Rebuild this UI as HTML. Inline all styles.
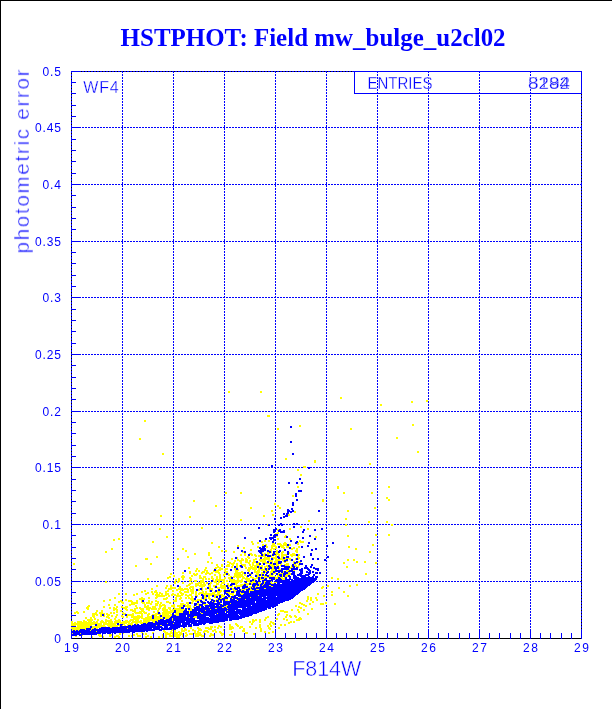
<!DOCTYPE html>
<html lang="en"><head><meta charset="utf-8"><title>HSTPHOT: Field mw_bulge_u2cl02</title>
<style>html,body{margin:0;padding:0;background:#fff;}svg{display:block;}text{fill:#0000ff;font-family:"Liberation Sans",sans-serif;}.t{font-family:"Liberation Serif",serif;font-weight:bold;}.thin text,text.thin{stroke:#fff;stroke-width:0.5px;}text.thin2{stroke:#fff;stroke-width:0.3px;}</style></head><body>
<svg width="612" height="709" viewBox="0 0 612 709">
<rect x="0" y="0" width="612" height="709" fill="#fff"/>
<g shape-rendering="crispEdges">
<rect x="0" y="0" width="612" height="1" fill="#000"/>
<rect x="0" y="0" width="1" height="709" fill="#000"/>
<rect x="71" y="71" width="511" height="1" fill="#000"/>
<rect x="71" y="71" width="1" height="568" fill="#000"/>
<rect x="581" y="71" width="1" height="568" fill="#000"/>
<path d="M71.5 71V638M122.5 71V638M173.5 71V638M224.5 71V638M275.5 71V638M326.5 71V638M377.5 71V638M428.5 71V638M479.5 71V638M530.5 71V638M581.5 71V638" stroke="#0000ff" stroke-width="1" stroke-dasharray="2 1" fill="none"/>
<path d="M71 581.5H582M71 524.5H582M71 467.5H582M71 411.5H582M71 354.5H582M71 297.5H582M71 241.5H582M71 184.5H582M71 127.5H582M71 71.5H582" stroke="#0000ff" stroke-width="1" stroke-dasharray="2 1" stroke-dashoffset="1" fill="none"/>
<path d="M228 391h2v1h-2zM260 391h2v1h-2zM228 392h2v1h-2zM260 392h2v1h-2zM340 397h2v1h-2zM340 398h2v1h-2zM426 400h2v1h-2zM411 401h2v1h-2zM426 401h2v1h-2zM411 402h2v1h-2zM380 404h2v1h-2zM380 405h2v1h-2zM267 415h3v1h-3zM267 416h3v1h-3zM144 420h2v1h-2zM144 421h2v1h-2zM412 424h2v1h-2zM299 425h2v1h-2zM412 425h2v1h-2zM299 426h2v1h-2zM277 428h2v1h-2zM350 428h2v1h-2zM277 429h2v1h-2zM350 429h2v1h-2zM396 437h2v1h-2zM139 438h2v1h-2zM396 438h2v1h-2zM139 439h2v1h-2zM417 451h2v1h-2zM417 452h2v1h-2zM162 453h2v1h-2zM162 454h2v1h-2zM285 458h2v1h-2zM285 459h2v1h-2zM314 460h2v1h-2zM314 461h2v1h-2zM314 462h2v1h-2zM369 463h2v1h-2zM369 464h2v1h-2zM303 466h3v1h-3zM303 467h3v1h-3zM297 469h2v1h-2zM297 470h2v1h-2zM300 474h2v1h-2zM300 475h2v1h-2zM297 486h2v1h-2zM337 486h2v1h-2zM388 486h2v1h-2zM297 487h2v1h-2zM337 487h2v1h-2zM388 487h2v1h-2zM337 488h2v1h-2zM225 492h2v1h-2zM240 492h2v1h-2zM343 492h2v1h-2zM371 492h2v1h-2zM225 493h2v1h-2zM240 493h2v1h-2zM343 493h2v1h-2zM371 493h2v1h-2zM292 495h2v1h-2zM292 496h2v1h-2zM386 497h2v1h-2zM386 498h2v1h-2zM322 499h2v1h-2zM388 499h2v1h-2zM193 500h2v1h-2zM322 500h2v1h-2zM388 500h2v1h-2zM193 501h2v1h-2zM322 501h2v1h-2zM274 503h2v1h-2zM274 504h2v1h-2zM215 505h2v1h-2zM277 505h2v1h-2zM215 506h2v1h-2zM277 506h2v1h-2zM250 507h2v1h-2zM279 507h2v1h-2zM374 507h2v1h-2zM250 508h2v1h-2zM279 508h2v1h-2zM374 508h2v1h-2zM271 510h2v1h-2zM347 510h2v1h-2zM271 511h2v1h-2zM294 511h2v1h-2zM347 511h2v1h-2zM294 512h2v1h-2zM272 514h2v1h-2zM288 514h2v1h-2zM160 515h2v1h-2zM263 515h2v1h-2zM272 515h2v1h-2zM288 515h2v1h-2zM160 516h2v1h-2zM189 516h2v1h-2zM263 516h2v1h-2zM189 517h2v1h-2zM345 518h2v1h-2zM240 519h2v1h-2zM345 519h2v1h-2zM240 520h2v1h-2zM308 520h2v1h-2zM308 521h2v1h-2zM368 521h2v1h-2zM386 521h2v1h-2zM368 522h2v1h-2zM386 522h2v1h-2zM267 524h1v1h-1zM345 524h2v1h-2zM391 524h2v1h-2zM267 525h1v1h-1zM345 525h2v1h-2zM391 525h2v1h-2zM300 526h2v1h-2zM201 527h2v1h-2zM300 527h2v1h-2zM159 528h2v1h-2zM201 528h2v1h-2zM289 528h2v1h-2zM307 528h2v1h-2zM159 529h2v1h-2zM277 529h2v1h-2zM289 529h2v1h-2zM307 529h2v1h-2zM277 530h1v1h-1zM277 532h2v1h-2zM275 533h4v1h-4zM375 534h2v1h-2zM388 534h2v1h-2zM285 535h2v1h-2zM347 535h2v1h-2zM375 535h2v1h-2zM388 535h2v1h-2zM166 536h2v1h-2zM276 536h2v1h-2zM284 536h2v1h-2zM315 536h2v1h-2zM347 536h2v1h-2zM166 537h2v1h-2zM284 537h2v1h-2zM315 537h2v1h-2zM118 538h2v1h-2zM277 538h2v1h-2zM289 538h2v1h-2zM113 539h2v1h-2zM118 539h2v1h-2zM277 539h2v1h-2zM289 539h2v1h-2zM113 540h2v1h-2zM264 540h2v1h-2zM268 540h2v1h-2zM299 540h2v1h-2zM152 541h2v1h-2zM251 541h2v1h-2zM261 541h2v1h-2zM264 541h2v1h-2zM268 541h2v1h-2zM299 541h5v1h-5zM152 542h2v1h-2zM211 542h2v1h-2zM251 542h2v1h-2zM257 542h2v1h-2zM261 542h2v1h-2zM284 542h2v1h-2zM298 542h1v1h-1zM300 542h4v1h-4zM211 543h2v1h-2zM252 543h2v1h-2zM257 543h2v1h-2zM272 543h3v1h-3zM277 543h4v1h-4zM283 543h4v1h-4zM297 543h2v1h-2zM252 544h2v1h-2zM262 544h2v1h-2zM265 544h2v1h-2zM272 544h3v1h-3zM277 544h5v1h-5zM283 544h4v1h-4zM289 544h2v1h-2zM297 544h2v1h-2zM372 544h2v1h-2zM237 545h2v1h-2zM262 545h2v1h-2zM266 545h1v1h-1zM271 545h5v1h-5zM280 545h7v1h-7zM289 545h2v1h-2zM372 545h2v1h-2zM218 546h2v1h-2zM237 546h2v1h-2zM257 546h2v1h-2zM266 546h2v1h-2zM271 546h6v1h-6zM280 546h4v1h-4zM286 546h3v1h-3zM298 546h2v1h-2zM348 546h2v1h-2zM218 547h2v1h-2zM243 547h2v1h-2zM257 547h2v1h-2zM266 547h2v1h-2zM271 547h2v1h-2zM275 547h2v1h-2zM281 547h4v1h-4zM286 547h3v1h-3zM293 547h2v1h-2zM298 547h2v1h-2zM348 547h2v1h-2zM111 548h2v1h-2zM182 548h2v1h-2zM243 548h2v1h-2zM271 548h6v1h-6zM283 548h2v1h-2zM291 548h4v1h-4zM296 548h2v1h-2zM355 548h2v1h-2zM111 549h2v1h-2zM182 549h2v1h-2zM250 549h2v1h-2zM270 549h2v1h-2zM273 549h2v1h-2zM291 549h2v1h-2zM296 549h2v1h-2zM355 549h2v1h-2zM185 550h2v1h-2zM221 550h2v1h-2zM225 550h2v1h-2zM250 550h2v1h-2zM269 550h3v1h-3zM276 550h2v1h-2zM295 550h3v1h-3zM105 551h2v1h-2zM185 551h2v1h-2zM221 551h2v1h-2zM225 551h2v1h-2zM233 551h2v1h-2zM243 551h1v1h-1zM271 551h1v1h-1zM276 551h2v1h-2zM282 551h2v1h-2zM295 551h3v1h-3zM369 551h2v1h-2zM105 552h2v1h-2zM208 552h2v1h-2zM233 552h2v1h-2zM242 552h2v1h-2zM262 552h1v1h-1zM267 552h2v1h-2zM271 552h1v1h-1zM275 552h3v1h-3zM281 552h3v1h-3zM289 552h1v1h-1zM296 552h2v1h-2zM369 552h2v1h-2zM194 553h2v1h-2zM208 553h2v1h-2zM244 553h2v1h-2zM249 553h3v1h-3zM262 553h1v1h-1zM264 553h2v1h-2zM267 553h3v1h-3zM272 553h1v1h-1zM275 553h4v1h-4zM281 553h2v1h-2zM289 553h1v1h-1zM292 553h3v1h-3zM194 554h2v1h-2zM208 554h2v1h-2zM240 554h2v1h-2zM244 554h2v1h-2zM250 554h3v1h-3zM254 554h2v1h-2zM263 554h2v1h-2zM267 554h2v1h-2zM276 554h4v1h-4zM281 554h6v1h-6zM290 554h6v1h-6zM298 554h2v1h-2zM208 555h2v1h-2zM240 555h2v1h-2zM244 555h2v1h-2zM251 555h2v1h-2zM254 555h3v1h-3zM258 555h3v1h-3zM263 555h2v1h-2zM271 555h1v1h-1zM274 555h3v1h-3zM278 555h2v1h-2zM281 555h6v1h-6zM290 555h6v1h-6zM298 555h2v1h-2zM156 556h2v1h-2zM187 556h2v1h-2zM247 556h2v1h-2zM255 556h2v1h-2zM258 556h8v1h-8zM271 556h1v1h-1zM275 556h2v1h-2zM279 556h1v1h-1zM281 556h3v1h-3zM291 556h2v1h-2zM297 556h2v1h-2zM156 557h2v1h-2zM187 557h2v1h-2zM210 557h2v1h-2zM237 557h1v1h-1zM247 557h3v1h-3zM264 557h6v1h-6zM271 557h6v1h-6zM281 557h2v1h-2zM285 557h1v1h-1zM297 557h3v1h-3zM145 558h3v1h-3zM177 558h2v1h-2zM210 558h2v1h-2zM231 558h2v1h-2zM237 558h1v1h-1zM241 558h2v1h-2zM245 558h2v1h-2zM248 558h2v1h-2zM255 558h2v1h-2zM263 558h7v1h-7zM273 558h4v1h-4zM280 558h3v1h-3zM285 558h6v1h-6zM295 558h1v1h-1zM298 558h2v1h-2zM145 559h3v1h-3zM177 559h2v1h-2zM222 559h2v1h-2zM231 559h2v1h-2zM237 559h2v1h-2zM241 559h3v1h-3zM245 559h3v1h-3zM253 559h4v1h-4zM259 559h11v1h-11zM273 559h1v1h-1zM275 559h11v1h-11zM289 559h2v1h-2zM295 559h1v1h-1zM298 559h1v1h-1zM347 559h2v1h-2zM353 559h2v1h-2zM222 560h2v1h-2zM234 560h2v1h-2zM237 560h7v1h-7zM245 560h3v1h-3zM249 560h2v1h-2zM253 560h2v1h-2zM259 560h7v1h-7zM268 560h5v1h-5zM275 560h5v1h-5zM282 560h2v1h-2zM290 560h1v1h-1zM347 560h2v1h-2zM353 560h2v1h-2zM207 561h2v1h-2zM227 561h2v1h-2zM234 561h2v1h-2zM239 561h3v1h-3zM245 561h3v1h-3zM249 561h2v1h-2zM253 561h3v1h-3zM260 561h6v1h-6zM269 561h4v1h-4zM274 561h4v1h-4zM283 561h1v1h-1zM286 561h2v1h-2zM293 561h2v1h-2zM298 561h2v1h-2zM356 561h2v1h-2zM364 561h2v1h-2zM207 562h2v1h-2zM211 562h2v1h-2zM227 562h4v1h-4zM233 562h2v1h-2zM240 562h2v1h-2zM245 562h5v1h-5zM252 562h4v1h-4zM258 562h2v1h-2zM262 562h5v1h-5zM272 562h1v1h-1zM274 562h4v1h-4zM284 562h2v1h-2zM293 562h1v1h-1zM298 562h3v1h-3zM343 562h2v1h-2zM356 562h2v1h-2zM364 562h2v1h-2zM375 562h2v1h-2zM73 563h2v1h-2zM150 563h2v1h-2zM211 563h2v1h-2zM229 563h6v1h-6zM236 563h2v1h-2zM240 563h2v1h-2zM248 563h2v1h-2zM252 563h2v1h-2zM256 563h3v1h-3zM262 563h1v1h-1zM265 563h5v1h-5zM272 563h1v1h-1zM276 563h2v1h-2zM281 563h1v1h-1zM286 563h3v1h-3zM293 563h1v1h-1zM296 563h2v1h-2zM343 563h2v1h-2zM375 563h2v1h-2zM73 564h2v1h-2zM150 564h2v1h-2zM216 564h2v1h-2zM221 564h2v1h-2zM227 564h3v1h-3zM231 564h3v1h-3zM236 564h2v1h-2zM241 564h5v1h-5zM249 564h2v1h-2zM252 564h2v1h-2zM256 564h3v1h-3zM269 564h4v1h-4zM276 564h3v1h-3zM280 564h2v1h-2zM284 564h5v1h-5zM294 564h2v1h-2zM298 564h1v1h-1zM135 565h2v1h-2zM216 565h2v1h-2zM221 565h2v1h-2zM226 565h4v1h-4zM232 565h2v1h-2zM236 565h2v1h-2zM239 565h1v1h-1zM242 565h4v1h-4zM249 565h2v1h-2zM252 565h8v1h-8zM261 565h2v1h-2zM266 565h2v1h-2zM270 565h5v1h-5zM276 565h3v1h-3zM280 565h1v1h-1zM285 565h4v1h-4zM291 565h1v1h-1zM294 565h3v1h-3zM298 565h2v1h-2zM135 566h2v1h-2zM217 566h2v1h-2zM221 566h2v1h-2zM226 566h4v1h-4zM231 566h2v1h-2zM236 566h2v1h-2zM239 566h1v1h-1zM244 566h2v1h-2zM250 566h3v1h-3zM254 566h3v1h-3zM259 566h4v1h-4zM264 566h4v1h-4zM271 566h3v1h-3zM276 566h1v1h-1zM291 566h1v1h-1zM295 566h4v1h-4zM346 566h2v1h-2zM188 567h2v1h-2zM205 567h2v1h-2zM215 567h6v1h-6zM231 567h2v1h-2zM236 567h2v1h-2zM240 567h1v1h-1zM245 567h2v1h-2zM248 567h9v1h-9zM259 567h1v1h-1zM262 567h1v1h-1zM264 567h2v1h-2zM267 567h2v1h-2zM272 567h2v1h-2zM279 567h1v1h-1zM290 567h3v1h-3zM298 567h1v1h-1zM346 567h2v1h-2zM188 568h2v1h-2zM196 568h2v1h-2zM205 568h2v1h-2zM214 568h3v1h-3zM219 568h4v1h-4zM225 568h3v1h-3zM234 568h2v1h-2zM245 568h2v1h-2zM248 568h9v1h-9zM258 568h2v1h-2zM262 568h1v1h-1zM264 568h1v1h-1zM267 568h1v1h-1zM272 568h2v1h-2zM279 568h1v1h-1zM289 568h2v1h-2zM196 569h2v1h-2zM204 569h2v1h-2zM218 569h5v1h-5zM224 569h4v1h-4zM234 569h2v1h-2zM238 569h1v1h-1zM247 569h4v1h-4zM252 569h5v1h-5zM258 569h7v1h-7zM267 569h1v1h-1zM271 569h4v1h-4zM278 569h3v1h-3zM289 569h1v1h-1zM195 570h2v1h-2zM198 570h2v1h-2zM204 570h4v1h-4zM213 570h1v1h-1zM216 570h5v1h-5zM224 570h2v1h-2zM235 570h4v1h-4zM247 570h3v1h-3zM254 570h2v1h-2zM257 570h3v1h-3zM261 570h5v1h-5zM267 570h2v1h-2zM271 570h4v1h-4zM286 570h3v1h-3zM293 570h2v1h-2zM189 571h2v1h-2zM195 571h2v1h-2zM198 571h2v1h-2zM202 571h3v1h-3zM206 571h2v1h-2zM213 571h6v1h-6zM224 571h4v1h-4zM235 571h3v1h-3zM241 571h2v1h-2zM248 571h2v1h-2zM254 571h6v1h-6zM265 571h2v1h-2zM270 571h3v1h-3zM283 571h1v1h-1zM286 571h2v1h-2zM182 572h2v1h-2zM189 572h2v1h-2zM201 572h4v1h-4zM206 572h3v1h-3zM211 572h2v1h-2zM215 572h5v1h-5zM225 572h3v1h-3zM235 572h9v1h-9zM254 572h6v1h-6zM261 572h2v1h-2zM265 572h1v1h-1zM270 572h3v1h-3zM275 572h1v1h-1zM283 572h1v1h-1zM288 572h2v1h-2zM170 573h2v1h-2zM182 573h2v1h-2zM189 573h2v1h-2zM193 573h2v1h-2zM196 573h2v1h-2zM201 573h2v1h-2zM205 573h8v1h-8zM218 573h2v1h-2zM224 573h2v1h-2zM228 573h1v1h-1zM234 573h7v1h-7zM242 573h2v1h-2zM249 573h2v1h-2zM256 573h3v1h-3zM261 573h4v1h-4zM270 573h1v1h-1zM273 573h3v1h-3zM278 573h5v1h-5zM288 573h3v1h-3zM365 573h2v1h-2zM170 574h2v1h-2zM193 574h5v1h-5zM205 574h2v1h-2zM209 574h2v1h-2zM214 574h2v1h-2zM219 574h2v1h-2zM223 574h3v1h-3zM228 574h2v1h-2zM234 574h9v1h-9zM244 574h2v1h-2zM251 574h1v1h-1zM255 574h4v1h-4zM261 574h1v1h-1zM269 574h2v1h-2zM273 574h1v1h-1zM278 574h1v1h-1zM282 574h1v1h-1zM286 574h5v1h-5zM365 574h2v1h-2zM173 575h2v1h-2zM182 575h2v1h-2zM191 575h2v1h-2zM194 575h3v1h-3zM199 575h2v1h-2zM214 575h2v1h-2zM219 575h2v1h-2zM223 575h2v1h-2zM228 575h2v1h-2zM234 575h9v1h-9zM244 575h2v1h-2zM257 575h2v1h-2zM261 575h1v1h-1zM264 575h1v1h-1zM269 575h4v1h-4zM277 575h2v1h-2zM282 575h1v1h-1zM285 575h3v1h-3zM169 576h2v1h-2zM173 576h2v1h-2zM181 576h4v1h-4zM191 576h2v1h-2zM199 576h2v1h-2zM203 576h3v1h-3zM211 576h2v1h-2zM216 576h2v1h-2zM219 576h2v1h-2zM230 576h2v1h-2zM233 576h11v1h-11zM246 576h1v1h-1zM250 576h2v1h-2zM257 576h3v1h-3zM261 576h2v1h-2zM264 576h3v1h-3zM269 576h7v1h-7zM277 576h3v1h-3zM282 576h1v1h-1zM285 576h3v1h-3zM167 577h4v1h-4zM181 577h4v1h-4zM189 577h2v1h-2zM199 577h3v1h-3zM203 577h3v1h-3zM211 577h2v1h-2zM216 577h2v1h-2zM219 577h2v1h-2zM224 577h2v1h-2zM228 577h3v1h-3zM233 577h2v1h-2zM236 577h5v1h-5zM242 577h3v1h-3zM246 577h2v1h-2zM250 577h4v1h-4zM256 577h2v1h-2zM260 577h1v1h-1zM264 577h5v1h-5zM275 577h3v1h-3zM280 577h3v1h-3zM284 577h1v1h-1zM331 577h2v1h-2zM147 578h2v1h-2zM167 578h2v1h-2zM178 578h2v1h-2zM182 578h2v1h-2zM189 578h3v1h-3zM199 578h5v1h-5zM205 578h2v1h-2zM208 578h2v1h-2zM211 578h3v1h-3zM216 578h2v1h-2zM219 578h2v1h-2zM224 578h2v1h-2zM228 578h3v1h-3zM237 578h2v1h-2zM242 578h8v1h-8zM252 578h6v1h-6zM260 578h1v1h-1zM264 578h1v1h-1zM275 578h3v1h-3zM281 578h4v1h-4zM331 578h2v1h-2zM337 578h2v1h-2zM147 579h2v1h-2zM175 579h2v1h-2zM178 579h2v1h-2zM182 579h2v1h-2zM190 579h2v1h-2zM202 579h2v1h-2zM205 579h2v1h-2zM208 579h2v1h-2zM212 579h2v1h-2zM215 579h10v1h-10zM229 579h6v1h-6zM237 579h2v1h-2zM241 579h2v1h-2zM245 579h5v1h-5zM254 579h2v1h-2zM260 579h4v1h-4zM269 579h2v1h-2zM275 579h1v1h-1zM282 579h3v1h-3zM337 579h2v1h-2zM175 580h2v1h-2zM178 580h2v1h-2zM189 580h3v1h-3zM194 580h3v1h-3zM200 580h4v1h-4zM213 580h1v1h-1zM215 580h10v1h-10zM226 580h2v1h-2zM229 580h14v1h-14zM246 580h4v1h-4zM254 580h1v1h-1zM105 581h2v1h-2zM174 581h2v1h-2zM177 581h3v1h-3zM189 581h2v1h-2zM194 581h3v1h-3zM200 581h4v1h-4zM213 581h4v1h-4zM218 581h2v1h-2zM223 581h2v1h-2zM226 581h2v1h-2zM230 581h13v1h-13zM247 581h3v1h-3zM252 581h3v1h-3zM264 581h2v1h-2zM271 581h1v1h-1zM105 582h2v1h-2zM174 582h2v1h-2zM177 582h2v1h-2zM182 582h2v1h-2zM191 582h2v1h-2zM198 582h7v1h-7zM206 582h2v1h-2zM210 582h2v1h-2zM214 582h3v1h-3zM218 582h2v1h-2zM221 582h4v1h-4zM231 582h8v1h-8zM240 582h2v1h-2zM244 582h1v1h-1zM249 582h7v1h-7zM258 582h3v1h-3zM264 582h1v1h-1zM270 582h2v1h-2zM274 582h3v1h-3zM174 583h2v1h-2zM182 583h2v1h-2zM189 583h4v1h-4zM195 583h7v1h-7zM203 583h2v1h-2zM206 583h2v1h-2zM210 583h2v1h-2zM216 583h3v1h-3zM221 583h4v1h-4zM227 583h2v1h-2zM235 583h3v1h-3zM244 583h5v1h-5zM251 583h2v1h-2zM258 583h3v1h-3zM264 583h1v1h-1zM271 583h3v1h-3zM188 584h3v1h-3zM195 584h4v1h-4zM200 584h6v1h-6zM209 584h2v1h-2zM216 584h3v1h-3zM220 584h2v1h-2zM227 584h2v1h-2zM235 584h2v1h-2zM240 584h4v1h-4zM246 584h3v1h-3zM251 584h1v1h-1zM259 584h1v1h-1zM263 584h1v1h-1zM356 584h2v1h-2zM156 585h2v1h-2zM166 585h2v1h-2zM170 585h2v1h-2zM186 585h4v1h-4zM195 585h11v1h-11zM208 585h3v1h-3zM213 585h4v1h-4zM220 585h6v1h-6zM228 585h2v1h-2zM232 585h1v1h-1zM236 585h7v1h-7zM246 585h2v1h-2zM256 585h1v1h-1zM259 585h1v1h-1zM262 585h1v1h-1zM269 585h2v1h-2zM327 585h2v1h-2zM349 585h2v1h-2zM356 585h2v1h-2zM156 586h2v1h-2zM166 586h2v1h-2zM170 586h2v1h-2zM179 586h2v1h-2zM186 586h2v1h-2zM190 586h4v1h-4zM195 586h2v1h-2zM199 586h6v1h-6zM208 586h3v1h-3zM213 586h2v1h-2zM220 586h6v1h-6zM228 586h5v1h-5zM234 586h8v1h-8zM249 586h3v1h-3zM255 586h3v1h-3zM259 586h1v1h-1zM271 586h2v1h-2zM322 586h2v1h-2zM327 586h2v1h-2zM349 586h2v1h-2zM165 587h2v1h-2zM170 587h6v1h-6zM179 587h2v1h-2zM189 587h5v1h-5zM201 587h2v1h-2zM209 587h2v1h-2zM214 587h1v1h-1zM217 587h9v1h-9zM230 587h2v1h-2zM236 587h1v1h-1zM248 587h3v1h-3zM252 587h1v1h-1zM255 587h1v1h-1zM321 587h3v1h-3zM338 587h2v1h-2zM151 588h2v1h-2zM165 588h2v1h-2zM168 588h8v1h-8zM178 588h5v1h-5zM184 588h4v1h-4zM189 588h2v1h-2zM192 588h2v1h-2zM199 588h1v1h-1zM202 588h1v1h-1zM205 588h2v1h-2zM209 588h4v1h-4zM217 588h3v1h-3zM221 588h5v1h-5zM232 588h2v1h-2zM245 588h3v1h-3zM250 588h1v1h-1zM264 588h2v1h-2zM321 588h2v1h-2zM338 588h2v1h-2zM151 589h2v1h-2zM168 589h4v1h-4zM176 589h13v1h-13zM190 589h4v1h-4zM198 589h2v1h-2zM202 589h1v1h-1zM205 589h2v1h-2zM209 589h4v1h-4zM224 589h2v1h-2zM227 589h3v1h-3zM232 589h3v1h-3zM241 589h5v1h-5zM250 589h2v1h-2zM256 589h3v1h-3zM144 590h2v1h-2zM155 590h2v1h-2zM167 590h2v1h-2zM172 590h2v1h-2zM176 590h2v1h-2zM180 590h4v1h-4zM187 590h2v1h-2zM190 590h4v1h-4zM198 590h2v1h-2zM201 590h2v1h-2zM209 590h1v1h-1zM212 590h1v1h-1zM217 590h1v1h-1zM220 590h2v1h-2zM223 590h1v1h-1zM230 590h1v1h-1zM233 590h4v1h-4zM241 590h1v1h-1zM244 590h1v1h-1zM249 590h5v1h-5zM141 591h2v1h-2zM144 591h2v1h-2zM151 591h2v1h-2zM154 591h3v1h-3zM165 591h4v1h-4zM172 591h2v1h-2zM179 591h2v1h-2zM184 591h5v1h-5zM190 591h4v1h-4zM195 591h2v1h-2zM202 591h2v1h-2zM205 591h2v1h-2zM209 591h1v1h-1zM214 591h1v1h-1zM217 591h5v1h-5zM223 591h1v1h-1zM230 591h1v1h-1zM234 591h2v1h-2zM249 591h1v1h-1zM331 591h2v1h-2zM343 591h2v1h-2zM141 592h2v1h-2zM147 592h2v1h-2zM151 592h2v1h-2zM154 592h4v1h-4zM159 592h2v1h-2zM165 592h2v1h-2zM179 592h3v1h-3zM184 592h5v1h-5zM191 592h3v1h-3zM195 592h2v1h-2zM199 592h5v1h-5zM205 592h2v1h-2zM212 592h4v1h-4zM217 592h4v1h-4zM226 592h4v1h-4zM234 592h1v1h-1zM240 592h1v1h-1zM249 592h1v1h-1zM331 592h2v1h-2zM343 592h2v1h-2zM118 593h2v1h-2zM125 593h2v1h-2zM136 593h2v1h-2zM145 593h4v1h-4zM152 593h2v1h-2zM156 593h2v1h-2zM159 593h4v1h-4zM165 593h4v1h-4zM172 593h2v1h-2zM177 593h2v1h-2zM180 593h4v1h-4zM191 593h3v1h-3zM195 593h2v1h-2zM198 593h17v1h-17zM217 593h3v1h-3zM228 593h6v1h-6zM240 593h4v1h-4zM317 593h2v1h-2zM118 594h2v1h-2zM125 594h2v1h-2zM133 594h2v1h-2zM136 594h2v1h-2zM145 594h2v1h-2zM152 594h2v1h-2zM155 594h5v1h-5zM161 594h2v1h-2zM165 594h4v1h-4zM171 594h5v1h-5zM177 594h2v1h-2zM181 594h3v1h-3zM185 594h2v1h-2zM189 594h3v1h-3zM195 594h2v1h-2zM198 594h2v1h-2zM203 594h20v1h-20zM229 594h5v1h-5zM235 594h1v1h-1zM241 594h2v1h-2zM317 594h2v1h-2zM331 594h2v1h-2zM133 595h2v1h-2zM155 595h12v1h-12zM168 595h2v1h-2zM171 595h2v1h-2zM174 595h9v1h-9zM185 595h7v1h-7zM195 595h3v1h-3zM204 595h2v1h-2zM208 595h4v1h-4zM214 595h5v1h-5zM221 595h4v1h-4zM232 595h2v1h-2zM258 595h1v1h-1zM323 595h2v1h-2zM331 595h2v1h-2zM347 595h2v1h-2zM156 596h9v1h-9zM168 596h2v1h-2zM176 596h5v1h-5zM187 596h2v1h-2zM191 596h2v1h-2zM197 596h1v1h-1zM204 596h2v1h-2zM208 596h2v1h-2zM214 596h2v1h-2zM221 596h4v1h-4zM230 596h1v1h-1zM307 596h2v1h-2zM323 596h2v1h-2zM347 596h2v1h-2zM114 597h2v1h-2zM141 597h2v1h-2zM148 597h2v1h-2zM155 597h3v1h-3zM166 597h2v1h-2zM175 597h2v1h-2zM180 597h2v1h-2zM185 597h2v1h-2zM188 597h2v1h-2zM191 597h2v1h-2zM201 597h1v1h-1zM204 597h3v1h-3zM208 597h2v1h-2zM214 597h2v1h-2zM221 597h1v1h-1zM223 597h1v1h-1zM228 597h3v1h-3zM239 597h2v1h-2zM250 597h1v1h-1zM307 597h2v1h-2zM310 597h2v1h-2zM315 597h2v1h-2zM114 598h2v1h-2zM139 598h6v1h-6zM148 598h2v1h-2zM155 598h2v1h-2zM163 598h5v1h-5zM175 598h2v1h-2zM179 598h3v1h-3zM185 598h2v1h-2zM188 598h6v1h-6zM201 598h1v1h-1zM204 598h3v1h-3zM208 598h3v1h-3zM217 598h1v1h-1zM220 598h2v1h-2zM232 598h1v1h-1zM307 598h2v1h-2zM310 598h2v1h-2zM315 598h2v1h-2zM109 599h2v1h-2zM125 599h2v1h-2zM139 599h6v1h-6zM163 599h4v1h-4zM175 599h2v1h-2zM179 599h2v1h-2zM190 599h4v1h-4zM197 599h5v1h-5zM203 599h2v1h-2zM209 599h2v1h-2zM213 599h1v1h-1zM216 599h2v1h-2zM225 599h3v1h-3zM236 599h1v1h-1zM245 599h1v1h-1zM307 599h2v1h-2zM310 599h2v1h-2zM316 599h2v1h-2zM103 600h2v1h-2zM109 600h2v1h-2zM120 600h2v1h-2zM125 600h2v1h-2zM128 600h4v1h-4zM136 600h2v1h-2zM141 600h1v1h-1zM148 600h2v1h-2zM155 600h2v1h-2zM173 600h4v1h-4zM181 600h2v1h-2zM191 600h9v1h-9zM215 600h1v1h-1zM219 600h1v1h-1zM222 600h1v1h-1zM225 600h3v1h-3zM229 600h1v1h-1zM237 600h1v1h-1zM306 600h2v1h-2zM310 600h2v1h-2zM316 600h2v1h-2zM103 601h2v1h-2zM118 601h5v1h-5zM128 601h5v1h-5zM136 601h2v1h-2zM141 601h1v1h-1zM148 601h2v1h-2zM151 601h2v1h-2zM155 601h4v1h-4zM166 601h3v1h-3zM173 601h4v1h-4zM181 601h2v1h-2zM192 601h2v1h-2zM195 601h2v1h-2zM203 601h2v1h-2zM212 601h1v1h-1zM215 601h1v1h-1zM219 601h1v1h-1zM306 601h2v1h-2zM312 601h2v1h-2zM118 602h2v1h-2zM121 602h3v1h-3zM131 602h7v1h-7zM141 602h4v1h-4zM146 602h4v1h-4zM151 602h2v1h-2zM157 602h2v1h-2zM160 602h2v1h-2zM166 602h5v1h-5zM186 602h3v1h-3zM191 602h2v1h-2zM200 602h1v1h-1zM214 602h1v1h-1zM299 602h2v1h-2zM312 602h2v1h-2zM325 602h2v1h-2zM122 603h2v1h-2zM131 603h7v1h-7zM142 603h3v1h-3zM146 603h6v1h-6zM155 603h4v1h-4zM160 603h2v1h-2zM169 603h2v1h-2zM180 603h4v1h-4zM186 603h3v1h-3zM191 603h2v1h-2zM197 603h2v1h-2zM220 603h1v1h-1zM230 603h1v1h-1zM299 603h4v1h-4zM309 603h2v1h-2zM320 603h4v1h-4zM325 603h2v1h-2zM334 603h2v1h-2zM108 604h2v1h-2zM114 604h2v1h-2zM129 604h6v1h-6zM144 604h2v1h-2zM150 604h2v1h-2zM155 604h3v1h-3zM159 604h2v1h-2zM162 604h3v1h-3zM173 604h2v1h-2zM180 604h6v1h-6zM187 604h2v1h-2zM197 604h2v1h-2zM203 604h5v1h-5zM222 604h1v1h-1zM301 604h4v1h-4zM309 604h2v1h-2zM320 604h4v1h-4zM334 604h2v1h-2zM88 605h2v1h-2zM108 605h2v1h-2zM114 605h2v1h-2zM129 605h2v1h-2zM135 605h2v1h-2zM144 605h2v1h-2zM147 605h2v1h-2zM155 605h3v1h-3zM159 605h7v1h-7zM171 605h4v1h-4zM177 605h6v1h-6zM185 605h6v1h-6zM196 605h1v1h-1zM198 605h1v1h-1zM204 605h1v1h-1zM219 605h1v1h-1zM226 605h2v1h-2zM295 605h2v1h-2zM303 605h4v1h-4zM87 606h3v1h-3zM103 606h2v1h-2zM116 606h2v1h-2zM121 606h2v1h-2zM125 606h3v1h-3zM135 606h2v1h-2zM144 606h5v1h-5zM152 606h4v1h-4zM159 606h3v1h-3zM164 606h2v1h-2zM171 606h4v1h-4zM177 606h6v1h-6zM185 606h6v1h-6zM193 606h2v1h-2zM200 606h1v1h-1zM224 606h3v1h-3zM295 606h2v1h-2zM298 606h2v1h-2zM305 606h2v1h-2zM86 607h3v1h-3zM103 607h2v1h-2zM109 607h2v1h-2zM113 607h2v1h-2zM116 607h2v1h-2zM121 607h7v1h-7zM136 607h2v1h-2zM139 607h2v1h-2zM144 607h7v1h-7zM152 607h4v1h-4zM159 607h2v1h-2zM163 607h3v1h-3zM168 607h3v1h-3zM173 607h2v1h-2zM179 607h2v1h-2zM187 607h4v1h-4zM193 607h1v1h-1zM200 607h1v1h-1zM209 607h1v1h-1zM222 607h2v1h-2zM226 607h1v1h-1zM298 607h4v1h-4zM86 608h3v1h-3zM109 608h2v1h-2zM113 608h4v1h-4zM123 608h4v1h-4zM134 608h4v1h-4zM139 608h5v1h-5zM146 608h11v1h-11zM158 608h3v1h-3zM162 608h4v1h-4zM168 608h3v1h-3zM174 608h7v1h-7zM187 608h1v1h-1zM190 608h2v1h-2zM215 608h2v1h-2zM227 608h1v1h-1zM300 608h2v1h-2zM311 608h2v1h-2zM87 609h2v1h-2zM113 609h5v1h-5zM125 609h3v1h-3zM130 609h3v1h-3zM134 609h2v1h-2zM140 609h4v1h-4zM146 609h4v1h-4zM151 609h6v1h-6zM158 609h2v1h-2zM162 609h6v1h-6zM169 609h2v1h-2zM172 609h13v1h-13zM190 609h2v1h-2zM210 609h1v1h-1zM291 609h2v1h-2zM297 609h2v1h-2zM303 609h2v1h-2zM311 609h2v1h-2zM96 610h2v1h-2zM101 610h2v1h-2zM113 610h2v1h-2zM116 610h2v1h-2zM120 610h2v1h-2zM126 610h2v1h-2zM130 610h6v1h-6zM141 610h3v1h-3zM148 610h2v1h-2zM157 610h2v1h-2zM162 610h6v1h-6zM170 610h4v1h-4zM176 610h8v1h-8zM188 610h4v1h-4zM205 610h1v1h-1zM227 610h1v1h-1zM280 610h4v1h-4zM291 610h2v1h-2zM297 610h2v1h-2zM303 610h2v1h-2zM76 611h2v1h-2zM83 611h2v1h-2zM96 611h2v1h-2zM101 611h2v1h-2zM116 611h2v1h-2zM120 611h2v1h-2zM132 611h4v1h-4zM139 611h6v1h-6zM153 611h2v1h-2zM157 611h2v1h-2zM163 611h11v1h-11zM176 611h7v1h-7zM189 611h1v1h-1zM225 611h1v1h-1zM280 611h8v1h-8zM298 611h2v1h-2zM74 612h5v1h-5zM83 612h2v1h-2zM95 612h2v1h-2zM99 612h4v1h-4zM110 612h2v1h-2zM113 612h2v1h-2zM116 612h2v1h-2zM122 612h2v1h-2zM134 612h8v1h-8zM143 612h4v1h-4zM153 612h2v1h-2zM157 612h1v1h-1zM162 612h11v1h-11zM176 612h7v1h-7zM189 612h1v1h-1zM200 612h1v1h-1zM284 612h4v1h-4zM298 612h2v1h-2zM74 613h2v1h-2zM77 613h2v1h-2zM92 613h5v1h-5zM99 613h6v1h-6zM106 613h2v1h-2zM110 613h2v1h-2zM113 613h2v1h-2zM122 613h4v1h-4zM132 613h2v1h-2zM135 613h8v1h-8zM144 613h3v1h-3zM148 613h2v1h-2zM155 613h3v1h-3zM160 613h1v1h-1zM162 613h9v1h-9zM175 613h4v1h-4zM189 613h1v1h-1zM201 613h2v1h-2zM217 613h1v1h-1zM278 613h2v1h-2zM307 613h2v1h-2zM92 614h6v1h-6zM100 614h2v1h-2zM104 614h1v1h-1zM106 614h4v1h-4zM116 614h2v1h-2zM123 614h2v1h-2zM127 614h7v1h-7zM141 614h2v1h-2zM147 614h3v1h-3zM152 614h9v1h-9zM162 614h7v1h-7zM170 614h2v1h-2zM174 614h5v1h-5zM277 614h3v1h-3zM286 614h2v1h-2zM307 614h2v1h-2zM92 615h3v1h-3zM96 615h2v1h-2zM100 615h2v1h-2zM104 615h1v1h-1zM107 615h3v1h-3zM111 615h2v1h-2zM116 615h2v1h-2zM121 615h2v1h-2zM127 615h7v1h-7zM137 615h3v1h-3zM141 615h2v1h-2zM147 615h2v1h-2zM151 615h1v1h-1zM154 615h3v1h-3zM159 615h1v1h-1zM162 615h10v1h-10zM176 615h3v1h-3zM277 615h2v1h-2zM286 615h2v1h-2zM289 615h2v1h-2zM294 615h2v1h-2zM92 616h3v1h-3zM100 616h2v1h-2zM103 616h2v1h-2zM106 616h3v1h-3zM111 616h2v1h-2zM115 616h2v1h-2zM121 616h3v1h-3zM126 616h2v1h-2zM131 616h12v1h-12zM147 616h5v1h-5zM154 616h6v1h-6zM162 616h9v1h-9zM194 616h3v1h-3zM267 616h2v1h-2zM285 616h2v1h-2zM289 616h3v1h-3zM294 616h3v1h-3zM85 617h2v1h-2zM90 617h2v1h-2zM93 617h2v1h-2zM106 617h4v1h-4zM115 617h2v1h-2zM122 617h2v1h-2zM126 617h2v1h-2zM131 617h12v1h-12zM145 617h7v1h-7zM154 617h7v1h-7zM162 617h1v1h-1zM165 617h5v1h-5zM189 617h1v1h-1zM193 617h4v1h-4zM265 617h4v1h-4zM285 617h2v1h-2zM290 617h2v1h-2zM295 617h2v1h-2zM299 617h2v1h-2zM85 618h2v1h-2zM90 618h2v1h-2zM94 618h2v1h-2zM108 618h2v1h-2zM114 618h2v1h-2zM133 618h7v1h-7zM141 618h11v1h-11zM154 618h9v1h-9zM165 618h4v1h-4zM172 618h1v1h-1zM265 618h2v1h-2zM276 618h2v1h-2zM283 618h2v1h-2zM298 618h4v1h-4zM87 619h6v1h-6zM94 619h2v1h-2zM97 619h2v1h-2zM105 619h2v1h-2zM110 619h2v1h-2zM114 619h2v1h-2zM118 619h2v1h-2zM130 619h9v1h-9zM143 619h17v1h-17zM165 619h1v1h-1zM172 619h1v1h-1zM252 619h2v1h-2zM255 619h2v1h-2zM259 619h2v1h-2zM264 619h2v1h-2zM276 619h2v1h-2zM283 619h2v1h-2zM286 619h2v1h-2zM296 619h6v1h-6zM83 620h2v1h-2zM87 620h6v1h-6zM97 620h2v1h-2zM101 620h2v1h-2zM105 620h7v1h-7zM115 620h6v1h-6zM125 620h3v1h-3zM129 620h5v1h-5zM135 620h4v1h-4zM140 620h2v1h-2zM143 620h15v1h-15zM172 620h1v1h-1zM252 620h5v1h-5zM259 620h2v1h-2zM264 620h2v1h-2zM286 620h2v1h-2zM296 620h4v1h-4zM71 621h2v1h-2zM77 621h5v1h-5zM83 621h4v1h-4zM88 621h4v1h-4zM93 621h2v1h-2zM96 621h2v1h-2zM100 621h4v1h-4zM105 621h8v1h-8zM114 621h7v1h-7zM122 621h9v1h-9zM132 621h10v1h-10zM143 621h7v1h-7zM152 621h3v1h-3zM157 621h1v1h-1zM249 621h2v1h-2zM252 621h3v1h-3zM259 621h2v1h-2zM270 621h2v1h-2zM290 621h2v1h-2zM293 621h2v1h-2zM71 622h2v1h-2zM74 622h2v1h-2zM77 622h21v1h-21zM100 622h7v1h-7zM108 622h5v1h-5zM114 622h16v1h-16zM131 622h17v1h-17zM153 622h2v1h-2zM249 622h2v1h-2zM252 622h2v1h-2zM259 622h2v1h-2zM270 622h4v1h-4zM288 622h4v1h-4zM293 622h2v1h-2zM71 623h31v1h-31zM103 623h14v1h-14zM120 623h7v1h-7zM128 623h5v1h-5zM135 623h3v1h-3zM140 623h3v1h-3zM146 623h1v1h-1zM167 623h1v1h-1zM173 623h1v1h-1zM235 623h2v1h-2zM251 623h2v1h-2zM269 623h2v1h-2zM272 623h3v1h-3zM288 623h2v1h-2zM71 624h24v1h-24zM97 624h5v1h-5zM103 624h13v1h-13zM119 624h1v1h-1zM123 624h2v1h-2zM127 624h6v1h-6zM136 624h1v1h-1zM229 624h2v1h-2zM235 624h3v1h-3zM251 624h2v1h-2zM259 624h2v1h-2zM269 624h2v1h-2zM273 624h2v1h-2zM280 624h2v1h-2zM284 624h2v1h-2zM71 625h5v1h-5zM77 625h15v1h-15zM97 625h8v1h-8zM107 625h13v1h-13zM122 625h1v1h-1zM124 625h2v1h-2zM127 625h1v1h-1zM131 625h1v1h-1zM156 625h1v1h-1zM160 625h2v1h-2zM218 625h2v1h-2zM229 625h2v1h-2zM236 625h3v1h-3zM259 625h2v1h-2zM267 625h2v1h-2zM270 625h2v1h-2zM280 625h2v1h-2zM284 625h2v1h-2zM71 626h5v1h-5zM77 626h13v1h-13zM92 626h14v1h-14zM108 626h10v1h-10zM119 626h1v1h-1zM210 626h3v1h-3zM214 626h2v1h-2zM218 626h4v1h-4zM229 626h4v1h-4zM237 626h2v1h-2zM240 626h3v1h-3zM249 626h2v1h-2zM259 626h2v1h-2zM267 626h2v1h-2zM270 626h2v1h-2zM71 627h19v1h-19zM92 627h9v1h-9zM110 627h2v1h-2zM190 627h2v1h-2zM197 627h2v1h-2zM205 627h4v1h-4zM210 627h3v1h-3zM214 627h2v1h-2zM217 627h2v1h-2zM220 627h2v1h-2zM229 627h5v1h-5zM239 627h4v1h-4zM249 627h2v1h-2zM255 627h2v1h-2zM259 627h2v1h-2zM268 627h2v1h-2zM278 627h2v1h-2zM71 628h15v1h-15zM91 628h3v1h-3zM96 628h2v1h-2zM127 628h1v1h-1zM181 628h2v1h-2zM184 628h2v1h-2zM190 628h2v1h-2zM197 628h4v1h-4zM205 628h7v1h-7zM217 628h2v1h-2zM229 628h5v1h-5zM239 628h2v1h-2zM243 628h2v1h-2zM255 628h2v1h-2zM260 628h2v1h-2zM268 628h3v1h-3zM278 628h2v1h-2zM71 629h9v1h-9zM85 629h1v1h-1zM91 629h1v1h-1zM172 629h1v1h-1zM181 629h2v1h-2zM184 629h3v1h-3zM192 629h2v1h-2zM198 629h4v1h-4zM208 629h4v1h-4zM214 629h2v1h-2zM223 629h2v1h-2zM229 629h3v1h-3zM243 629h2v1h-2zM260 629h2v1h-2zM269 629h2v1h-2zM71 630h2v1h-2zM75 630h1v1h-1zM78 630h1v1h-1zM90 630h1v1h-1zM163 630h2v1h-2zM171 630h2v1h-2zM174 630h2v1h-2zM181 630h6v1h-6zM188 630h2v1h-2zM192 630h4v1h-4zM198 630h4v1h-4zM204 630h4v1h-4zM212 630h4v1h-4zM223 630h2v1h-2zM242 630h3v1h-3zM260 630h2v1h-2zM96 631h1v1h-1zM163 631h3v1h-3zM170 631h2v1h-2zM174 631h2v1h-2zM178 631h2v1h-2zM181 631h4v1h-4zM188 631h2v1h-2zM194 631h2v1h-2zM197 631h2v1h-2zM203 631h6v1h-6zM212 631h2v1h-2zM215 631h2v1h-2zM219 631h2v1h-2zM231 631h2v1h-2zM242 631h3v1h-3zM260 631h2v1h-2zM264 631h2v1h-2zM272 631h2v1h-2zM141 632h2v1h-2zM152 632h2v1h-2zM164 632h4v1h-4zM170 632h12v1h-12zM185 632h2v1h-2zM194 632h2v1h-2zM197 632h4v1h-4zM203 632h2v1h-2zM207 632h2v1h-2zM215 632h2v1h-2zM219 632h3v1h-3zM231 632h2v1h-2zM245 632h3v1h-3zM264 632h2v1h-2zM268 632h2v1h-2zM272 632h2v1h-2zM71 633h2v1h-2zM80 633h1v1h-1zM119 633h2v1h-2zM122 633h2v1h-2zM136 633h2v1h-2zM142 633h2v1h-2zM145 633h2v1h-2zM152 633h2v1h-2zM165 633h13v1h-13zM179 633h5v1h-5zM185 633h2v1h-2zM189 633h4v1h-4zM194 633h7v1h-7zM204 633h2v1h-2zM210 633h2v1h-2zM220 633h5v1h-5zM245 633h3v1h-3zM253 633h2v1h-2zM268 633h2v1h-2zM98 634h3v1h-3zM109 634h4v1h-4zM119 634h2v1h-2zM133 634h2v1h-2zM136 634h2v1h-2zM142 634h2v1h-2zM145 634h2v1h-2zM162 634h2v1h-2zM165 634h6v1h-6zM172 634h12v1h-12zM186 634h2v1h-2zM189 634h4v1h-4zM195 634h7v1h-7zM204 634h2v1h-2zM210 634h4v1h-4zM221 634h4v1h-4zM229 634h3v1h-3zM253 634h2v1h-2zM81 635h2v1h-2zM98 635h4v1h-4zM109 635h4v1h-4zM116 635h3v1h-3zM128 635h2v1h-2zM131 635h4v1h-4zM137 635h4v1h-4zM147 635h2v1h-2zM162 635h2v1h-2zM165 635h2v1h-2zM169 635h4v1h-4zM174 635h7v1h-7zM182 635h2v1h-2zM185 635h3v1h-3zM195 635h10v1h-10zM209 635h5v1h-5zM221 635h2v1h-2zM229 635h3v1h-3zM75 636h2v1h-2zM91 636h2v1h-2zM99 636h5v1h-5zM109 636h2v1h-2zM114 636h6v1h-6zM128 636h2v1h-2zM131 636h2v1h-2zM137 636h4v1h-4zM145 636h4v1h-4zM150 636h2v1h-2zM158 636h2v1h-2zM162 636h2v1h-2zM165 636h2v1h-2zM169 636h4v1h-4zM174 636h6v1h-6zM182 636h2v1h-2zM185 636h2v1h-2zM195 636h4v1h-4zM201 636h4v1h-4zM209 636h2v1h-2zM91 637h2v1h-2zM102 637h2v1h-2zM114 637h2v1h-2zM118 637h2v1h-2zM145 637h2v1h-2zM150 637h2v1h-2zM158 637h2v1h-2zM162 637h2v1h-2zM165 637h2v1h-2zM176 637h4v1h-4z" fill="#ffff00"/>
<path d="M290 426h2v1h-2zM290 427h2v1h-2zM290 441h2v1h-2zM290 442h2v1h-2zM292 453h2v1h-2zM292 454h2v1h-2zM271 465h2v1h-2zM271 466h2v1h-2zM308 467h2v1h-2zM308 468h2v1h-2zM299 478h2v1h-2zM299 479h2v1h-2zM288 482h2v1h-2zM296 482h2v1h-2zM301 482h2v1h-2zM288 483h2v1h-2zM296 483h2v1h-2zM301 483h2v1h-2zM298 490h4v1h-4zM298 491h4v1h-4zM295 493h2v1h-2zM295 494h2v1h-2zM295 495h2v1h-2zM295 496h2v1h-2zM296 499h2v1h-2zM296 500h2v1h-2zM292 502h2v1h-2zM292 503h2v1h-2zM292 504h2v1h-2zM292 505h2v1h-2zM291 508h2v1h-2zM287 509h2v1h-2zM291 509h2v1h-2zM287 510h3v1h-3zM292 510h2v1h-2zM318 510h2v1h-2zM287 511h7v1h-7zM318 511h2v1h-2zM287 512h2v1h-2zM290 512h2v1h-2zM283 513h2v1h-2zM286 513h3v1h-3zM283 514h2v1h-2zM286 514h2v1h-2zM285 515h3v1h-3zM283 516h5v1h-5zM280 517h2v1h-2zM283 517h2v1h-2zM274 518h2v1h-2zM280 518h2v1h-2zM274 519h2v1h-2zM280 523h2v1h-2zM293 523h2v1h-2zM296 523h2v1h-2zM268 524h2v1h-2zM278 524h5v1h-5zM293 524h2v1h-2zM296 524h2v1h-2zM268 525h2v1h-2zM278 525h2v1h-2zM281 525h2v1h-2zM293 526h2v1h-2zM258 527h2v1h-2zM293 527h2v1h-2zM258 528h2v1h-2zM275 528h2v1h-2zM321 528h2v1h-2zM273 529h4v1h-4zM279 529h2v1h-2zM303 529h2v1h-2zM314 529h2v1h-2zM321 529h2v1h-2zM273 530h2v1h-2zM278 530h3v1h-3zM283 530h2v1h-2zM303 530h2v1h-2zM314 530h2v1h-2zM273 531h2v1h-2zM278 531h7v1h-7zM302 531h2v1h-2zM273 532h2v1h-2zM280 532h5v1h-5zM302 532h2v1h-2zM270 534h2v1h-2zM274 534h4v1h-4zM270 535h2v1h-2zM273 535h5v1h-5zM309 535h2v1h-2zM273 536h2v1h-2zM286 536h2v1h-2zM297 536h2v1h-2zM309 536h2v1h-2zM244 537h2v1h-2zM269 537h6v1h-6zM286 537h2v1h-2zM297 537h2v1h-2zM302 537h2v1h-2zM244 538h2v1h-2zM265 538h2v1h-2zM269 538h5v1h-5zM302 538h2v1h-2zM314 538h2v1h-2zM265 539h2v1h-2zM270 539h2v1h-2zM273 539h2v1h-2zM314 539h2v1h-2zM259 540h2v1h-2zM273 540h2v1h-2zM290 540h2v1h-2zM259 541h2v1h-2zM272 541h2v1h-2zM290 541h2v1h-2zM296 541h2v1h-2zM272 542h2v1h-2zM295 542h3v1h-3zM308 542h2v1h-2zM332 542h2v1h-2zM295 543h2v1h-2zM308 543h2v1h-2zM332 543h2v1h-2zM287 544h2v1h-2zM264 545h2v1h-2zM287 545h2v1h-2zM307 545h2v1h-2zM326 545h2v1h-2zM262 546h4v1h-4zM278 546h2v1h-2zM301 546h2v1h-2zM307 546h2v1h-2zM326 546h2v1h-2zM237 547h2v1h-2zM259 547h2v1h-2zM262 547h3v1h-3zM278 547h2v1h-2zM289 547h2v1h-2zM301 547h2v1h-2zM237 548h2v1h-2zM259 548h7v1h-7zM289 548h2v1h-2zM315 548h2v1h-2zM260 549h6v1h-6zM284 549h2v1h-2zM311 549h2v1h-2zM315 549h2v1h-2zM241 550h2v1h-2zM258 550h8v1h-8zM267 550h2v1h-2zM279 550h2v1h-2zM284 550h2v1h-2zM311 550h2v1h-2zM241 551h2v1h-2zM244 551h2v1h-2zM258 551h6v1h-6zM267 551h4v1h-4zM273 551h2v1h-2zM278 551h3v1h-3zM287 551h2v1h-2zM244 552h2v1h-2zM259 552h3v1h-3zM269 552h2v1h-2zM273 552h2v1h-2zM278 552h2v1h-2zM287 552h2v1h-2zM260 553h2v1h-2zM273 553h2v1h-2zM287 553h2v1h-2zM310 553h2v1h-2zM248 554h2v1h-2zM261 554h2v1h-2zM265 554h2v1h-2zM272 554h3v1h-3zM287 554h2v1h-2zM296 554h2v1h-2zM310 554h2v1h-2zM248 555h2v1h-2zM261 555h2v1h-2zM265 555h6v1h-6zM272 555h2v1h-2zM296 555h2v1h-2zM310 555h2v1h-2zM267 556h4v1h-4zM277 556h2v1h-2zM286 556h3v1h-3zM303 556h2v1h-2zM327 556h2v1h-2zM235 557h2v1h-2zM260 557h2v1h-2zM277 557h3v1h-3zM283 557h2v1h-2zM286 557h3v1h-3zM303 557h2v1h-2zM327 557h2v1h-2zM235 558h2v1h-2zM260 558h2v1h-2zM271 558h2v1h-2zM278 558h2v1h-2zM283 558h2v1h-2zM296 558h2v1h-2zM312 558h2v1h-2zM317 558h2v1h-2zM271 559h2v1h-2zM286 559h2v1h-2zM291 559h2v1h-2zM296 559h2v1h-2zM312 559h2v1h-2zM317 559h2v1h-2zM324 559h2v1h-2zM284 560h4v1h-4zM291 560h2v1h-2zM300 560h2v1h-2zM324 560h2v1h-2zM256 561h2v1h-2zM267 561h2v1h-2zM278 561h4v1h-4zM284 561h2v1h-2zM296 561h2v1h-2zM300 561h2v1h-2zM256 562h2v1h-2zM267 562h2v1h-2zM270 562h2v1h-2zM278 562h4v1h-4zM294 562h4v1h-4zM259 563h2v1h-2zM263 563h2v1h-2zM270 563h2v1h-2zM273 563h2v1h-2zM278 563h3v1h-3zM294 563h2v1h-2zM299 563h4v1h-4zM259 564h2v1h-2zM263 564h2v1h-2zM273 564h2v1h-2zM292 564h2v1h-2zM299 564h4v1h-4zM311 564h2v1h-2zM240 565h2v1h-2zM268 565h2v1h-2zM281 565h4v1h-4zM292 565h2v1h-2zM305 565h2v1h-2zM311 565h2v1h-2zM234 566h2v1h-2zM240 566h3v1h-3zM257 566h2v1h-2zM268 566h3v1h-3zM274 566h2v1h-2zM277 566h2v1h-2zM281 566h9v1h-9zM292 566h3v1h-3zM305 566h2v1h-2zM310 566h2v1h-2zM234 567h2v1h-2zM241 567h2v1h-2zM257 567h2v1h-2zM260 567h2v1h-2zM269 567h3v1h-3zM274 567h5v1h-5zM284 567h6v1h-6zM293 567h2v1h-2zM296 567h2v1h-2zM304 567h4v1h-4zM310 567h2v1h-2zM313 567h2v1h-2zM236 568h2v1h-2zM260 568h2v1h-2zM265 568h2v1h-2zM268 568h4v1h-4zM274 568h5v1h-5zM281 568h8v1h-8zM291 568h7v1h-7zM301 568h2v1h-2zM304 568h5v1h-5zM313 568h6v1h-6zM214 569h2v1h-2zM230 569h2v1h-2zM236 569h2v1h-2zM265 569h2v1h-2zM268 569h2v1h-2zM275 569h2v1h-2zM281 569h8v1h-8zM291 569h7v1h-7zM299 569h4v1h-4zM307 569h3v1h-3zM315 569h4v1h-4zM184 570h2v1h-2zM214 570h2v1h-2zM230 570h2v1h-2zM266 570h1v1h-1zM275 570h8v1h-8zM289 570h4v1h-4zM299 570h4v1h-4zM308 570h3v1h-3zM317 570h2v1h-2zM184 571h2v1h-2zM263 571h2v1h-2zM267 571h2v1h-2zM273 571h10v1h-10zM284 571h2v1h-2zM288 571h7v1h-7zM300 571h3v1h-3zM306 571h2v1h-2zM309 571h2v1h-2zM312 571h2v1h-2zM244 572h2v1h-2zM247 572h2v1h-2zM251 572h2v1h-2zM263 572h2v1h-2zM266 572h3v1h-3zM273 572h2v1h-2zM278 572h2v1h-2zM281 572h2v1h-2zM284 572h4v1h-4zM292 572h3v1h-3zM300 572h3v1h-3zM306 572h5v1h-5zM312 572h2v1h-2zM315 572h3v1h-3zM319 572h2v1h-2zM226 573h2v1h-2zM244 573h2v1h-2zM247 573h2v1h-2zM251 573h2v1h-2zM266 573h2v1h-2zM271 573h2v1h-2zM276 573h2v1h-2zM283 573h5v1h-5zM291 573h4v1h-4zM299 573h4v1h-4zM308 573h3v1h-3zM315 573h3v1h-3zM319 573h2v1h-2zM226 574h2v1h-2zM249 574h2v1h-2zM259 574h2v1h-2zM262 574h2v1h-2zM265 574h2v1h-2zM271 574h2v1h-2zM276 574h2v1h-2zM279 574h3v1h-3zM283 574h3v1h-3zM291 574h4v1h-4zM297 574h5v1h-5zM305 574h5v1h-5zM313 574h2v1h-2zM247 575h4v1h-4zM255 575h2v1h-2zM259 575h2v1h-2zM262 575h2v1h-2zM265 575h4v1h-4zM279 575h3v1h-3zM283 575h2v1h-2zM288 575h2v1h-2zM293 575h3v1h-3zM297 575h12v1h-12zM313 575h2v1h-2zM247 576h2v1h-2zM255 576h2v1h-2zM267 576h2v1h-2zM280 576h2v1h-2zM283 576h2v1h-2zM288 576h3v1h-3zM293 576h4v1h-4zM300 576h6v1h-6zM308 576h2v1h-2zM312 576h2v1h-2zM315 576h3v1h-3zM231 577h2v1h-2zM258 577h2v1h-2zM261 577h3v1h-3zM269 577h6v1h-6zM278 577h2v1h-2zM285 577h2v1h-2zM289 577h2v1h-2zM293 577h6v1h-6zM301 577h13v1h-13zM315 577h3v1h-3zM231 578h2v1h-2zM258 578h2v1h-2zM261 578h3v1h-3zM265 578h2v1h-2zM269 578h6v1h-6zM278 578h3v1h-3zM285 578h2v1h-2zM289 578h2v1h-2zM293 578h24v1h-24zM252 579h2v1h-2zM258 579h2v1h-2zM264 579h3v1h-3zM271 579h4v1h-4zM276 579h6v1h-6zM285 579h8v1h-8zM294 579h23v1h-23zM211 580h2v1h-2zM250 580h4v1h-4zM255 580h2v1h-2zM258 580h2v1h-2zM262 580h11v1h-11zM275 580h15v1h-15zM291 580h25v1h-25zM211 581h2v1h-2zM245 581h2v1h-2zM250 581h2v1h-2zM255 581h5v1h-5zM262 581h2v1h-2zM266 581h5v1h-5zM275 581h40v1h-40zM245 582h2v1h-2zM256 582h2v1h-2zM262 582h2v1h-2zM265 582h5v1h-5zM277 582h37v1h-37zM208 583h2v1h-2zM231 583h4v1h-4zM249 583h2v1h-2zM253 583h5v1h-5zM261 583h3v1h-3zM265 583h6v1h-6zM274 583h2v1h-2zM277 583h3v1h-3zM282 583h30v1h-30zM208 584h1v1h-1zM230 584h5v1h-5zM244 584h2v1h-2zM249 584h2v1h-2zM252 584h7v1h-7zM260 584h3v1h-3zM264 584h47v1h-47zM177 585h2v1h-2zM226 585h2v1h-2zM230 585h2v1h-2zM243 585h3v1h-3zM252 585h4v1h-4zM257 585h2v1h-2zM260 585h2v1h-2zM263 585h6v1h-6zM271 585h39v1h-39zM177 586h2v1h-2zM215 586h2v1h-2zM226 586h2v1h-2zM242 586h6v1h-6zM252 586h3v1h-3zM260 586h11v1h-11zM273 586h35v1h-35zM207 587h2v1h-2zM215 587h2v1h-2zM227 587h2v1h-2zM234 587h2v1h-2zM237 587h3v1h-3zM242 587h6v1h-6zM251 587h1v1h-1zM253 587h2v1h-2zM256 587h51v1h-51zM200 588h2v1h-2zM207 588h2v1h-2zM227 588h2v1h-2zM230 588h2v1h-2zM234 588h6v1h-6zM242 588h3v1h-3zM248 588h2v1h-2zM251 588h13v1h-13zM266 588h40v1h-40zM196 589h2v1h-2zM200 589h2v1h-2zM218 589h2v1h-2zM230 589h2v1h-2zM235 589h3v1h-3zM239 589h2v1h-2zM246 589h4v1h-4zM252 589h4v1h-4zM259 589h46v1h-46zM196 590h2v1h-2zM210 590h2v1h-2zM215 590h2v1h-2zM218 590h2v1h-2zM224 590h6v1h-6zM237 590h4v1h-4zM242 590h2v1h-2zM246 590h3v1h-3zM254 590h49v1h-49zM210 591h2v1h-2zM215 591h2v1h-2zM224 591h6v1h-6zM231 591h3v1h-3zM236 591h13v1h-13zM250 591h51v1h-51zM224 592h2v1h-2zM231 592h3v1h-3zM236 592h4v1h-4zM241 592h8v1h-8zM250 592h50v1h-50zM224 593h4v1h-4zM236 593h4v1h-4zM244 593h55v1h-55zM201 594h2v1h-2zM226 594h3v1h-3zM236 594h5v1h-5zM243 594h55v1h-55zM201 595h3v1h-3zM206 595h2v1h-2zM212 595h2v1h-2zM219 595h2v1h-2zM227 595h3v1h-3zM234 595h24v1h-24zM259 595h37v1h-37zM195 596h2v1h-2zM202 596h2v1h-2zM206 596h2v1h-2zM212 596h2v1h-2zM216 596h2v1h-2zM219 596h2v1h-2zM225 596h2v1h-2zM228 596h2v1h-2zM231 596h5v1h-5zM238 596h28v1h-28zM267 596h9v1h-9zM277 596h18v1h-18zM195 597h2v1h-2zM202 597h2v1h-2zM216 597h2v1h-2zM219 597h2v1h-2zM224 597h4v1h-4zM231 597h7v1h-7zM241 597h9v1h-9zM251 597h11v1h-11zM263 597h31v1h-31zM194 598h2v1h-2zM202 598h2v1h-2zM218 598h2v1h-2zM222 598h6v1h-6zM230 598h2v1h-2zM233 598h60v1h-60zM194 599h2v1h-2zM205 599h2v1h-2zM211 599h2v1h-2zM218 599h7v1h-7zM230 599h5v1h-5zM237 599h8v1h-8zM246 599h20v1h-20zM267 599h24v1h-24zM142 600h2v1h-2zM200 600h2v1h-2zM205 600h2v1h-2zM211 600h4v1h-4zM216 600h3v1h-3zM220 600h2v1h-2zM223 600h2v1h-2zM230 600h7v1h-7zM238 600h51v1h-51zM142 601h2v1h-2zM197 601h2v1h-2zM200 601h3v1h-3zM207 601h2v1h-2zM210 601h2v1h-2zM213 601h2v1h-2zM216 601h3v1h-3zM220 601h2v1h-2zM223 601h32v1h-32zM256 601h29v1h-29zM189 602h2v1h-2zM197 602h2v1h-2zM201 602h5v1h-5zM207 602h7v1h-7zM217 602h5v1h-5zM223 602h32v1h-32zM256 602h27v1h-27zM189 603h2v1h-2zM194 603h3v1h-3zM202 603h4v1h-4zM208 603h12v1h-12zM223 603h7v1h-7zM231 603h49v1h-49zM194 604h3v1h-3zM199 604h4v1h-4zM209 604h13v1h-13zM223 604h55v1h-55zM183 605h2v1h-2zM194 605h2v1h-2zM199 605h4v1h-4zM205 605h10v1h-10zM216 605h3v1h-3zM220 605h6v1h-6zM228 605h23v1h-23zM252 605h26v1h-26zM183 606h2v1h-2zM196 606h4v1h-4zM201 606h3v1h-3zM205 606h19v1h-19zM227 606h49v1h-49zM181 607h3v1h-3zM194 607h6v1h-6zM201 607h8v1h-8zM210 607h12v1h-12zM224 607h2v1h-2zM227 607h19v1h-19zM247 607h24v1h-24zM272 607h2v1h-2zM181 608h3v1h-3zM185 608h2v1h-2zM188 608h2v1h-2zM194 608h21v1h-21zM217 608h10v1h-10zM228 608h10v1h-10zM242 608h25v1h-25zM268 608h3v1h-3zM185 609h2v1h-2zM188 609h2v1h-2zM192 609h18v1h-18zM211 609h30v1h-30zM242 609h25v1h-25zM174 610h2v1h-2zM184 610h3v1h-3zM192 610h13v1h-13zM206 610h21v1h-21zM228 610h7v1h-7zM236 610h29v1h-29zM174 611h2v1h-2zM183 611h6v1h-6zM190 611h7v1h-7zM198 611h27v1h-27zM226 611h36v1h-36zM158 612h2v1h-2zM174 612h2v1h-2zM183 612h6v1h-6zM190 612h10v1h-10zM201 612h24v1h-24zM226 612h33v1h-33zM158 613h2v1h-2zM172 613h2v1h-2zM179 613h10v1h-10zM190 613h11v1h-11zM203 613h14v1h-14zM218 613h9v1h-9zM228 613h29v1h-29zM102 614h2v1h-2zM125 614h2v1h-2zM172 614h2v1h-2zM179 614h36v1h-36zM216 614h22v1h-22zM239 614h14v1h-14zM102 615h2v1h-2zM125 615h2v1h-2zM152 615h2v1h-2zM160 615h2v1h-2zM172 615h4v1h-4zM179 615h7v1h-7zM187 615h52v1h-52zM240 615h12v1h-12zM152 616h2v1h-2zM160 616h2v1h-2zM171 616h15v1h-15zM187 616h7v1h-7zM197 616h9v1h-9zM209 616h40v1h-40zM152 617h2v1h-2zM163 617h2v1h-2zM170 617h19v1h-19zM190 617h3v1h-3zM197 617h12v1h-12zM210 617h35v1h-35zM152 618h2v1h-2zM163 618h2v1h-2zM169 618h3v1h-3zM173 618h22v1h-22zM197 618h31v1h-31zM229 618h13v1h-13zM160 619h4v1h-4zM166 619h6v1h-6zM173 619h22v1h-22zM199 619h29v1h-29zM229 619h10v1h-10zM158 620h14v1h-14zM173 620h55v1h-55zM229 620h3v1h-3zM155 621h2v1h-2zM158 621h16v1h-16zM175 621h10v1h-10zM186 621h39v1h-39zM148 622h5v1h-5zM155 622h42v1h-42zM198 622h21v1h-21zM117 623h2v1h-2zM143 623h3v1h-3zM147 623h20v1h-20zM168 623h5v1h-5zM174 623h7v1h-7zM182 623h8v1h-8zM191 623h15v1h-15zM209 623h4v1h-4zM95 624h2v1h-2zM117 624h2v1h-2zM120 624h2v1h-2zM134 624h2v1h-2zM137 624h2v1h-2zM141 624h40v1h-40zM182 624h10v1h-10zM193 624h9v1h-9zM203 624h2v1h-2zM95 625h2v1h-2zM120 625h2v1h-2zM128 625h3v1h-3zM132 625h24v1h-24zM157 625h3v1h-3zM162 625h25v1h-25zM188 625h4v1h-4zM193 625h6v1h-6zM90 626h2v1h-2zM120 626h42v1h-42zM164 626h4v1h-4zM170 626h17v1h-17zM188 626h4v1h-4zM90 627h2v1h-2zM101 627h9v1h-9zM112 627h51v1h-51zM164 627h4v1h-4zM169 627h11v1h-11zM183 627h2v1h-2zM86 628h5v1h-5zM94 628h2v1h-2zM99 628h28v1h-28zM128 628h24v1h-24zM153 628h7v1h-7zM161 628h17v1h-17zM80 629h5v1h-5zM86 629h5v1h-5zM92 629h80v1h-80zM174 629h2v1h-2zM73 630h2v1h-2zM76 630h2v1h-2zM79 630h11v1h-11zM91 630h64v1h-64zM159 630h3v1h-3zM71 631h25v1h-25zM97 631h48v1h-48zM146 631h2v1h-2zM71 632h59v1h-59zM132 632h3v1h-3zM73 633h7v1h-7zM81 633h20v1h-20zM102 633h4v1h-4zM107 633h4v1h-4zM114 633h2v1h-2zM71 634h26v1h-26zM71 635h6v1h-6zM79 635h2v1h-2z" fill="#0000ff"/>
<rect x="71" y="638" width="511" height="1" fill="#000"/>
<path d="M71 629h1v10h-1zM81 633h1v6h-1zM91 633h1v6h-1zM102 633h1v6h-1zM112 633h1v6h-1zM122 629h1v10h-1zM132 633h1v6h-1zM142 633h1v6h-1zM153 633h1v6h-1zM163 633h1v6h-1zM173 629h1v10h-1zM183 633h1v6h-1zM193 633h1v6h-1zM204 633h1v6h-1zM214 633h1v6h-1zM224 629h1v10h-1zM234 633h1v6h-1zM244 633h1v6h-1zM255 633h1v6h-1zM265 633h1v6h-1zM275 629h1v10h-1zM285 633h1v6h-1zM295 633h1v6h-1zM306 633h1v6h-1zM316 633h1v6h-1zM326 629h1v10h-1zM336 633h1v6h-1zM346 633h1v6h-1zM357 633h1v6h-1zM367 633h1v6h-1zM377 629h1v10h-1zM387 633h1v6h-1zM397 633h1v6h-1zM408 633h1v6h-1zM418 633h1v6h-1zM428 629h1v10h-1zM438 633h1v6h-1zM448 633h1v6h-1zM459 633h1v6h-1zM469 633h1v6h-1zM479 629h1v10h-1zM489 633h1v6h-1zM499 633h1v6h-1zM510 633h1v6h-1zM520 633h1v6h-1zM530 629h1v10h-1zM540 633h1v6h-1zM550 633h1v6h-1zM561 633h1v6h-1zM571 633h1v6h-1zM581 629h1v10h-1zM71 626h5v1h-5zM71 615h5v1h-5zM71 603h5v1h-5zM71 592h5v1h-5zM71 581h10v1h-10zM71 569h5v1h-5zM71 558h5v1h-5zM71 547h5v1h-5zM71 535h5v1h-5zM71 524h10v1h-10zM71 513h5v1h-5zM71 501h5v1h-5zM71 490h5v1h-5zM71 479h5v1h-5zM71 467h10v1h-10zM71 456h5v1h-5zM71 445h5v1h-5zM71 433h5v1h-5zM71 422h5v1h-5zM71 411h10v1h-10zM71 399h5v1h-5zM71 388h5v1h-5zM71 377h5v1h-5zM71 365h5v1h-5zM71 354h10v1h-10zM71 343h5v1h-5zM71 331h5v1h-5zM71 320h5v1h-5zM71 309h5v1h-5zM71 297h10v1h-10zM71 286h5v1h-5zM71 275h5v1h-5zM71 263h5v1h-5zM71 252h5v1h-5zM71 241h10v1h-10zM71 229h5v1h-5zM71 218h5v1h-5zM71 207h5v1h-5zM71 195h5v1h-5zM71 184h10v1h-10zM71 173h5v1h-5zM71 161h5v1h-5zM71 150h5v1h-5zM71 139h5v1h-5zM71 127h10v1h-10zM71 116h5v1h-5zM71 105h5v1h-5zM71 93h5v1h-5zM71 82h5v1h-5zM71 71h10v1h-10z" fill="#0000ff"/>
<rect x="355" y="72" width="226" height="21" fill="#fff"/>
<rect x="354" y="71" width="228" height="1" fill="#0000ff"/>
<rect x="354" y="93" width="228" height="1" fill="#0000ff"/>
<rect x="354" y="71" width="1" height="23" fill="#0000ff"/>
<rect x="581" y="71" width="1" height="23" fill="#0000ff"/>
<path d="M377.5 72V93M428.5 72V93M479.5 72V93M530.5 72V93" stroke="#0000ff" stroke-width="1" stroke-dasharray="2 1" stroke-dashoffset="1" fill="none"/>
</g>
<g opacity="0.999">
<text class="t" x="120.6" y="46" font-size="25" textLength="385" lengthAdjust="spacingAndGlyphs">HSTPHOT: Field mw_bulge_u2cl02</text>
<text x="61.9" y="642.5" font-size="12" text-anchor="end" letter-spacing="0.9">0</text>
<text x="61.9" y="585.5" font-size="12" text-anchor="end" letter-spacing="0.9">0.05</text>
<text x="61.9" y="528.5" font-size="12" text-anchor="end" letter-spacing="0.9">0.1</text>
<text x="61.9" y="471.5" font-size="12" text-anchor="end" letter-spacing="0.9">0.15</text>
<text x="61.9" y="415.5" font-size="12" text-anchor="end" letter-spacing="0.9">0.2</text>
<text x="61.9" y="358.5" font-size="12" text-anchor="end" letter-spacing="0.9">0.25</text>
<text x="61.9" y="301.5" font-size="12" text-anchor="end" letter-spacing="0.9">0.3</text>
<text x="61.9" y="245.5" font-size="12" text-anchor="end" letter-spacing="0.9">0.35</text>
<text x="61.9" y="188.5" font-size="12" text-anchor="end" letter-spacing="0.9">0.4</text>
<text x="61.9" y="131.5" font-size="12" text-anchor="end" letter-spacing="0.9">0.45</text>
<text x="61.9" y="75.5" font-size="12" text-anchor="end" letter-spacing="0.9">0.5</text>
<text x="72.25" y="652" font-size="12" text-anchor="middle" letter-spacing="1.5">19</text>
<text x="123.25" y="652" font-size="12" text-anchor="middle" letter-spacing="1.5">20</text>
<text x="174.25" y="652" font-size="12" text-anchor="middle" letter-spacing="1.5">21</text>
<text x="225.25" y="652" font-size="12" text-anchor="middle" letter-spacing="1.5">22</text>
<text x="276.25" y="652" font-size="12" text-anchor="middle" letter-spacing="1.5">23</text>
<text x="327.25" y="652" font-size="12" text-anchor="middle" letter-spacing="1.5">24</text>
<text x="378.25" y="652" font-size="12" text-anchor="middle" letter-spacing="1.5">25</text>
<text x="429.25" y="652" font-size="12" text-anchor="middle" letter-spacing="1.5">26</text>
<text x="480.25" y="652" font-size="12" text-anchor="middle" letter-spacing="1.5">27</text>
<text x="531.25" y="652" font-size="12" text-anchor="middle" letter-spacing="1.5">28</text>
<text x="582.25" y="652" font-size="12" text-anchor="middle" letter-spacing="1.5">29</text>
<text class="thin" x="292.3" y="676" font-size="21.5" textLength="69" lengthAdjust="spacing">F814W</text>
<text class="thin" transform="translate(29 253.5) rotate(-90)" font-size="20.5" textLength="184" lengthAdjust="spacing">photometric error</text>
<text class="thin2" x="83.2 99.3 109.8" y="93" font-size="16">WF4</text>
<text class="thin2" x="367.5" y="88.5" font-size="17" textLength="65" lengthAdjust="spacingAndGlyphs">ENTRIES</text>
<text class="thin2" x="528" y="88.5" font-size="17" textLength="42" lengthAdjust="spacingAndGlyphs">5192</text>
<text class="thin2" x="528" y="88.5" font-size="17" textLength="42" lengthAdjust="spacingAndGlyphs">8284</text>
</g>
</svg></body></html>
